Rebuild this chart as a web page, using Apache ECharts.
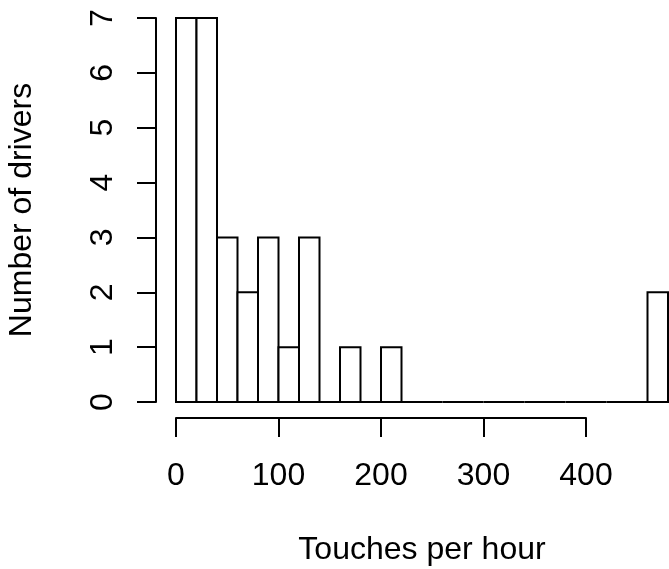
<!DOCTYPE html>
<html>
<head>
<meta charset="utf-8">
<script src="https://cdn.jsdelivr.net/npm/echarts@6/dist/echarts.min.js"></script>
<style>
  html, body { margin: 0; padding: 0; background: #fff; }
  #chart { width: 669px; height: 569px; }
</style>
</head>
<body>
<div id="chart"></div>
<script>
// Histogram bin edges (touches per hour) and driver counts per bin
const breaks = [0, 20, 40, 60, 80, 100, 120, 140, 160, 180, 200, 220, 240,
                260, 280, 300, 320, 340, 360, 380, 400, 420, 440, 460, 480];
const counts = [7, 7, 3, 2, 3, 1, 3, 0, 1, 0, 1, 0,
                0, 0, 0, 0, 0, 0, 0, 0, 0, 0, 0, 2];
const xTicks = [0, 100, 200, 300, 400];
const yTicks = [0, 1, 2, 3, 4, 5, 6, 7];

const FONT = 'Liberation Sans, Arial, sans-serif';
const FS = 32;

const bins = counts.map((c, i) => [breaks[i], breaks[i + 1], c]);

const chart = echarts.init(document.getElementById('chart'), null, { renderer: 'canvas' });

chart.setOption({
  animation: false,
  backgroundColor: '#ffffff',
  grid: [
    { left: 176, right: 1, top: 18, bottom: 167, outerBoundsMode: 'none', containLabel: false },
    { left: 176, right: 669 - 586, top: 18, bottom: 167, outerBoundsMode: 'none', containLabel: false }
  ],
  xAxis: [
    {
      gridIndex: 0,
      type: 'value',
      min: breaks[0],
      max: breaks[breaks.length - 1],
      axisLine: { show: false, onZero: false },
      axisTick: { show: false },
      axisLabel: { show: false },
      splitLine: { show: false },
      name: 'Touches per hour',
      nameLocation: 'middle',
      nameGap: 132,
      nameTextStyle: { fontFamily: FONT, fontSize: FS, color: '#000' }
    },
    {
      gridIndex: 1,
      type: 'value',
      min: xTicks[0],
      max: xTicks[xTicks.length - 1],
      interval: 100,
      offset: 16,
      axisLine: { show: true, onZero: false, lineStyle: { color: '#000', width: 2 } },
      axisTick: { show: true, length: 19, lineStyle: { color: '#000', width: 2 } },
      axisLabel: { show: true, margin: 42, fontFamily: FONT, fontSize: FS, color: '#000' },
      splitLine: { show: false }
    }
  ],
  yAxis: [
    {
      gridIndex: 0,
      type: 'value',
      min: yTicks[0],
      max: yTicks[yTicks.length - 1],
      interval: 1,
      offset: 20,
      axisLine: { show: true, onZero: false, lineStyle: { color: '#000', width: 2 } },
      axisTick: { show: true, length: 19, lineStyle: { color: '#000', width: 2 } },
      axisLabel: { show: true, rotate: 90, margin: 37, fontFamily: FONT, fontSize: FS, color: '#000' },
      splitLine: { show: false },
      name: 'Number of drivers',
      nameLocation: 'middle',
      nameGap: 118,
      nameRotate: 90,
      nameTextStyle: { fontFamily: FONT, fontSize: FS, color: '#000' }
    },
    {
      gridIndex: 1,
      type: 'value',
      show: false,
      axisLine: { onZero: false }
    }
  ],
  series: [
    {
      type: 'custom',
      xAxisIndex: 0,
      yAxisIndex: 0,
      clip: false,
      data: bins,
      encode: { x: [0, 1], y: 2 },
      renderItem: function (params, api) {
        const p0 = api.coord([api.value(0), api.value(2)]);
        const p1 = api.coord([api.value(1), 0]);
        return {
          type: 'rect',
          shape: { x: p0[0], y: p0[1], width: p1[0] - p0[0], height: p1[1] - p0[1] },
          style: { fill: '#ffffff', stroke: '#000', lineWidth: 2 }
        };
      }
    }
  ]
});
</script>
</body>
</html>
